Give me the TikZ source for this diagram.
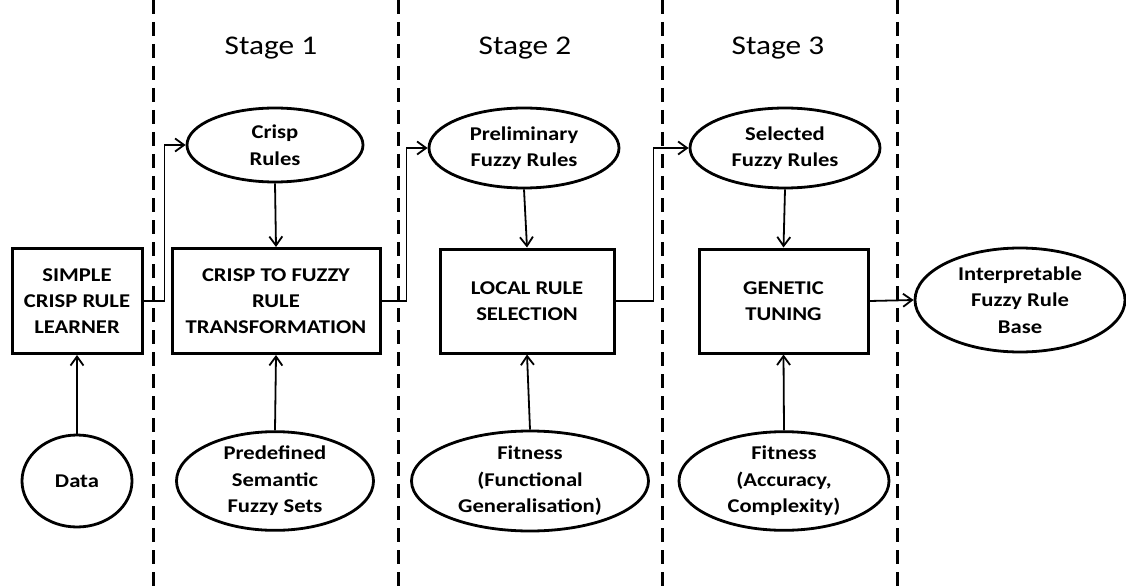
\documentclass[tikz,border=0pt]{standalone}
\usepackage{fontspec}
\setmainfont{Carlito}[FakeStretch=1.16]
\usetikzlibrary{arrows.meta,shapes.geometric}
\tikzset{
  procbox/.style={draw, line width=3pt, rectangle, align=center, inner sep=0pt,
    font=\bfseries\fontsize{19.5}{26}\selectfont},
  datanode/.style={draw, line width=2.8pt, ellipse, align=center, inner sep=0pt,
    font=\bfseries\fontsize{19.5}{26.5}\selectfont},
  stagelabel/.style={font=\fontsize{27}{32}\selectfont, inner sep=0pt},
  divider/.style={line width=3pt, dash pattern=on 14pt off 8pt},
  flow/.style={line width=1.8pt, -{Straight Barb[length=9pt,width=13pt,line width=1.8pt]}},
}
\begin{document}
\begin{tikzpicture}[x=1pt,y=-1pt]
\useasboundingbox (0,0) rectangle (1126,588);
% dividers
\coordinate (d1t) at (153,0); \coordinate (d1b) at (153,588);
\coordinate (d2t) at (398,0); \coordinate (d2b) at (398,588);
\coordinate (d3t) at (662,0); \coordinate (d3b) at (662,588);
\coordinate (d4t) at (897,0); \coordinate (d4b) at (897,588);
\draw[divider] (d1t) -- (d1b);
\draw[divider] (d2t) -- (d2b);
\draw[divider] (d3t) -- (d3b);
\draw[divider] (d4t) -- (d4b);
% stage labels
\node[stagelabel] (s1) at (271,48) {Stage 1};
\node[stagelabel] (s2) at (525,48) {Stage 2};
\node[stagelabel] (s3) at (778,48) {Stage 3};
% boxes
\node[procbox, minimum width=130pt, minimum height=105pt] (b1) at (77,301) {SIMPLE\\CRISP RULE\\LEARNER};
\node[procbox, minimum width=208pt, minimum height=105pt] (b2) at (276,301) {CRISP TO FUZZY\\RULE\\TRANSFORMATION};
\node[procbox, minimum width=174pt, minimum height=104pt] (b3) at (527,301) {LOCAL RULE\\SELECTION};
\node[procbox, minimum width=169pt, minimum height=104pt] (b4) at (783.5,301) {GENETIC\\TUNING};
% top ellipses
\node[datanode, minimum width=176pt, minimum height=74pt] (e1) at (275,145) {Crisp\\Rules};
\node[datanode, minimum width=190pt, minimum height=80pt] (e2) at (524,148) {Preliminary\\Fuzzy Rules};
\node[datanode, minimum width=190pt, minimum height=80pt] (e3) at (785,148) {Selected\\Fuzzy Rules};
\node[datanode, minimum width=210pt, minimum height=104pt] (e4) at (1020,300) {Interpretable\\Fuzzy Rule\\Base};
% bottom ellipses
\node[datanode, minimum width=110pt, minimum height=92pt] (f1) at (77,481) {Data};
\node[datanode, minimum width=197pt, minimum height=92pt] (f2) at (275,481) {Predefined\\Semantic\\Fuzzy Sets};
\node[datanode, minimum width=237pt, minimum height=100pt] (f3) at (530,481) {Fitness\\(Functional\\Generalisation)};
\node[datanode, minimum width=210pt, minimum height=92pt] (f4) at (784,481) {Fitness\\(Accuracy,\\Complexity)};
% flows
\draw[flow] (b1.east) -- ++(21,0) |- (e1.west);
\draw[flow] (b2.east) -- ++(25,0) |- (e2.west);
\draw[flow] (b3.east) -- ++(38,0) |- (e3.west);
\draw[flow] (b4.east) -- (e4.west);
\draw[flow] (e1.south) -- (b2.north);
\draw[flow] (e2.south) -- (b3.north);
\draw[flow] (e3.south) -- (b4.north);
\draw[flow] (f1.north) -- (b1.south);
\draw[flow] (f2.north) -- (b2.south);
\draw[flow] (f3.north) -- (b3.south);
\draw[flow] (f4.north) -- (b4.south);
\end{tikzpicture}
\end{document}
